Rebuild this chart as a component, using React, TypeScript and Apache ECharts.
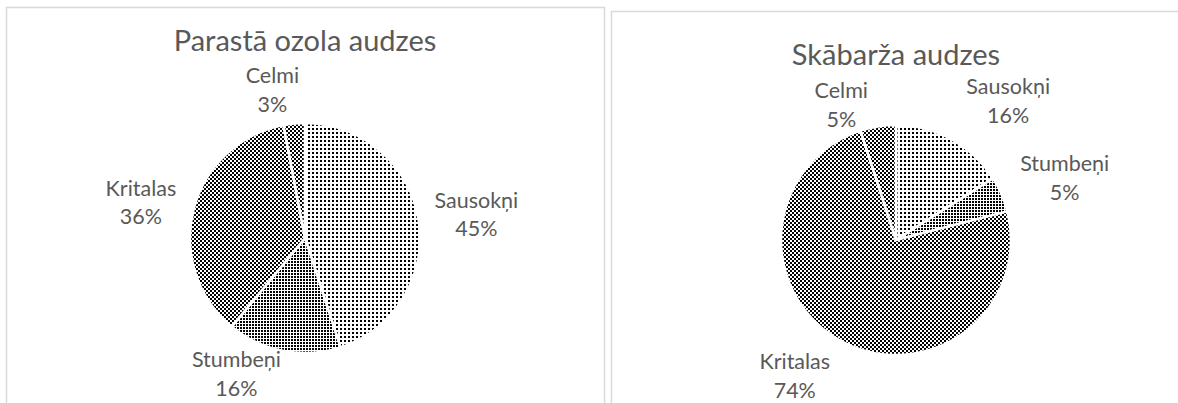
import React, { useEffect, useRef } from 'react';
import * as echarts from 'echarts';

// ---- data ----
const categories = ['Sausokņi', 'Stumbeņi', 'Kritalas', 'Celmi'];
const oakValues = [45, 16, 36, 3];
const hornbeamValues = [16, 5, 74, 5];
const chartTitles = ['Parastā ozola audzes', 'Skābarža audzes'];

// ---- layout / style (not data) ----
const W = 1178;
const H = 403;
const pieCenters = [[305, 238], [896, 240]];
const pieRadius = 115;
const titleTops = [25, 39];
// Excel "best fit" label placement: shift (degrees) from the slice's mid angle and distance from centre
const labelAngleShift = [
  [1, 16, -2, -7],
  [10, 3, 8, -13],
];
const labelDistance = [
  [173, 152, 168, 152],
  [179, 180, 169, 146],
];
const textColor = '#595959';
const fontFamily = 'Lato, "Open Sans", sans-serif';

function makePattern(size: number, rects: number[][]) {
  const c = document.createElement('canvas');
  c.width = size;
  c.height = size;
  const ctx = c.getContext('2d')!;
  ctx.fillStyle = '#ffffff';
  ctx.fillRect(0, 0, size, size);
  ctx.fillStyle = '#000000';
  rects.forEach(([x, y, w, h]) => ctx.fillRect(x, y, w, h));
  return { image: c, repeat: 'repeat', imageWidth: size, imageHeight: size } as any;
}

export default function App() {
  const ref = useRef<HTMLDivElement>(null);
  useEffect(() => {
    if (!ref.current) return;
    const chart = echarts.init(ref.current, undefined, { renderer: 'svg' });

    const patterns = [
      makePattern(4, [[0, 0, 2, 2]]), // Sausokņi: sparse dots
      makePattern(3, [[0, 0, 2, 2]]), // Stumbeņi: medium grid
      makePattern(4, [[0, 0, 2, 2], [2, 2, 2, 2]]), // Kritalas: checker
      makePattern(4, [[0, 0, 2, 2], [2, 2, 2, 2]]), // Celmi: checker
    ];

    const seriesValues = [oakValues, hornbeamValues];

    const makeSeries = (idx: number) => {
      const values = seriesValues[idx];
      const total = values.reduce((a, b) => a + b, 0);
      const [cx, cy] = pieCenters[idx];
      return {
        type: 'pie',
        silent: true,
        center: [cx, cy],
        radius: pieRadius,
        startAngle: 90,
        clockwise: true,
        data: categories.map((name, i) => ({
          name,
          value: values[i],
          itemStyle: { color: patterns[i] },
        })),
        itemStyle: { borderColor: '#ffffff', borderWidth: 2.5 },
        label: {
          show: true,
          position: 'outside',
          formatter: (p: any) => `${p.name}\n${Math.round(p.percent)}%`,
          color: textColor,
          fontFamily,
          fontSize: 21.5,
          lineHeight: 28.5,
          align: 'center',
        },
        labelLine: { show: false },
        labelLayout: (params: any) => {
          const i = params.dataIndex;
          let cum = 0;
          for (let k = 0; k < i; k++) cum += values[k];
          const mid =
            ((cum + values[i] / 2) / total) * Math.PI * 2 +
            (labelAngleShift[idx][i] * Math.PI) / 180;
          const d = labelDistance[idx][i];
          return {
            x: cx + d * Math.sin(mid),
            y: cy - d * Math.cos(mid),
            align: 'center',
            verticalAlign: 'middle',
          };
        },
        emphasis: { disabled: true },
      };
    };

    chart.setOption({
      animation: false,
      backgroundColor: '#ffffff',
      title: chartTitles.map((t, i) => ({
        text: t,
        left: pieCenters[i][0],
        top: titleTops[i],
        textAlign: 'center',
        padding: 0,
        textStyle: {
          color: textColor,
          fontFamily,
          fontSize: 29,
          fontWeight: 'normal',
        },
      })),
      graphic: [
        {
          type: 'rect',
          shape: { x: 6.5, y: 7.5, width: 598, height: 420 },
          style: { fill: 'none', stroke: '#d9d9d9', lineWidth: 1.5 },
          silent: true,
        },
        {
          type: 'rect',
          shape: { x: 611.5, y: 11.5, width: 600, height: 420 },
          style: { fill: 'none', stroke: '#d9d9d9', lineWidth: 1.5 },
          silent: true,
        },
      ],
      series: [makeSeries(0), makeSeries(1)],
    });

    return () => chart.dispose();
  }, []);

  return (
    <div
      ref={ref}
      style={{ position: 'fixed', left: 0, top: 0, width: W, height: H, background: '#fff' }}
    />
  );
}
